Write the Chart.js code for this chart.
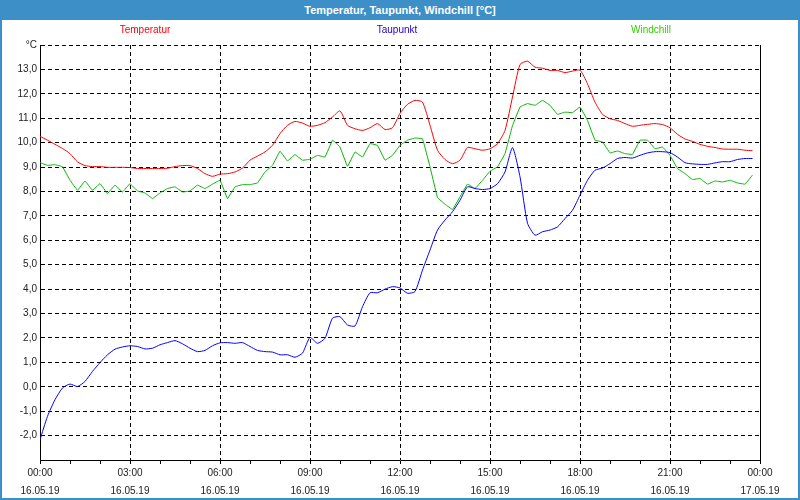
<!DOCTYPE html>
<html>
<head>
<meta charset="utf-8">
<script src="https://cdn.jsdelivr.net/npm/chart.js@4/dist/chart.umd.min.js"></script>
<style>
  html, body { margin: 0; padding: 0; background: #fff; }
  #frame { position: relative; width: 800px; height: 500px; overflow: hidden;
           font-family: "Liberation Sans", Arial, sans-serif; }
  #frame::after { content: ""; position: absolute; left: 0; top: 0; right: 0; bottom: 0;
           border: 2px solid #3d8fc7; border-top: none; pointer-events: none; }
  #titlebar { position: absolute; left: 0; top: 0; width: 800px; height: 20px; background: #3d8fc7;
              color: #fff; font-weight: bold; font-size: 11px; line-height: 20px; text-align: center; z-index: 2; }
  .leg { position: absolute; top: 24px; font-size: 10px; transform: translateX(-50%); z-index: 2; }
  canvas { position: absolute; left: 0; top: 0; }
</style>
</head>
<body>
<div id="frame">
  <div id="titlebar">Temperatur, Taupunkt, Windchill [°C]</div>
  <div class="leg" style="left:145px;color:#ff0000">Temperatur</div>
  <div class="leg" style="left:397px;color:#2200cc">Taupunkt</div>
  <div class="leg" style="left:651px;color:#33cc00">Windchill</div>
  <canvas id="chart" width="800" height="500"></canvas>
</div>
<script>
// Messwerte alle 15 Minuten, 16.05.19 00:00 bis 23:45
const stepMinutes = 15;

const temperatur = [
  10.26, 10.10, 9.93, 9.76, 9.55, 9.21, 9.06, 9.02,
  9.02, 8.99, 8.99, 8.99, 8.98, 8.94, 8.94, 8.94,
  8.94, 8.95, 9.02, 9.06, 9.06, 8.94, 8.73, 8.62,
  8.71, 8.73, 8.80, 8.96, 9.28, 9.45, 9.62, 9.89,
  10.37, 10.71, 10.87, 10.80, 10.67, 10.71, 10.82, 11.05,
  11.30, 10.71, 10.57, 10.50, 10.61, 10.78, 10.54, 10.61,
  11.20, 11.57, 11.73, 11.66, 10.71, 9.69, 9.31, 9.14,
  9.28, 9.80, 9.75, 9.69, 9.75, 9.96, 10.50, 11.87,
  13.20, 13.34, 13.09, 13.05, 12.96, 12.96, 12.87, 12.93,
  12.97, 12.41, 11.66, 11.16, 10.98, 10.91, 10.78, 10.67,
  10.71, 10.75, 10.78, 10.74, 10.61, 10.34, 10.15, 10.05,
  9.93, 9.85, 9.80, 9.74, 9.73, 9.73, 9.69, 9.67
];

const taupunkt = [
  -2.17, -1.21, -0.53, -0.05, 0.11, 0.01, 0.22, 0.63,
  0.99, 1.31, 1.54, 1.63, 1.68, 1.65, 1.55, 1.58,
  1.72, 1.81, 1.89, 1.76, 1.58, 1.44, 1.49, 1.68,
  1.80, 1.81, 1.78, 1.81, 1.65, 1.49, 1.44, 1.42,
  1.31, 1.31, 1.21, 1.38, 2.02, 1.78, 1.99, 2.81,
  2.87, 2.53, 2.49, 3.28, 3.85, 3.85, 4.00, 4.10,
  4.05, 3.83, 3.90, 4.78, 5.60, 6.42, 6.83, 7.17,
  7.64, 8.19, 8.12, 8.08, 8.12, 8.32, 8.80, 9.80,
  8.60, 6.70, 6.21, 6.35, 6.42, 6.55, 6.89, 7.23,
  7.85, 8.46, 8.87, 8.96, 9.14, 9.35, 9.39, 9.37,
  9.48, 9.58, 9.63, 9.63, 9.59, 9.41, 9.18, 9.13,
  9.11, 9.11, 9.17, 9.22, 9.22, 9.31, 9.35, 9.35
];

const windchill = [
  9.18, 9.07, 9.10, 9.01, 8.46, 8.05, 8.43, 8.05,
  8.32, 7.92, 8.26, 7.98, 8.32, 8.02, 7.94, 7.71,
  7.94, 8.12, 8.19, 7.98, 8.02, 8.26, 8.12, 8.30,
  8.46, 7.71, 8.19, 8.28, 8.28, 8.35, 8.80, 9.07,
  9.65, 9.25, 9.51, 9.28, 9.32, 9.48, 9.41, 10.10,
  9.82, 9.03, 9.62, 9.41, 9.96, 9.89, 9.28, 9.48,
  9.89, 10.10, 10.19, 10.16, 9.01, 7.75, 7.48, 7.26,
  7.78, 8.30, 8.12, 8.46, 8.83, 9.01, 9.55, 10.70,
  11.46, 11.60, 11.53, 11.73, 11.53, 11.16, 11.25, 11.23,
  11.46, 10.91, 10.10, 10.03, 9.58, 9.66, 9.55, 9.52,
  10.10, 10.10, 9.75, 9.82, 9.48, 8.94, 8.73, 8.49,
  8.53, 8.30, 8.43, 8.39, 8.46, 8.35, 8.30, 8.67
];

// Achsenbeschriftung x (alle 3 Stunden)
const xTickTimes = ["00:00", "03:00", "06:00", "09:00", "12:00", "15:00", "18:00", "21:00", "00:00"];
const xTickDates = ["16.05.19", "16.05.19", "16.05.19", "16.05.19", "16.05.19", "16.05.19", "16.05.19", "16.05.19", "17.05.19"];

function toPoints(values) {
  return values.map((v, i) => ({ x: (i * stepMinutes) / 60, y: v }));
}

function lineSet(label, values, color, tension) {
  return {
    label,
    data: toPoints(values),
    borderColor: color,
    borderWidth: 1,
    pointRadius: 0,
    tension,
    fill: false,
  };
}

// rechte Rahmenlinie
const rightBorder = {
  id: "rightBorder",
  afterDraw(chart) {
    const { ctx, chartArea } = chart;
    ctx.save();
    ctx.strokeStyle = "#000";
    ctx.lineWidth = 1;
    ctx.beginPath();
    ctx.moveTo(chartArea.right + 0.5, chartArea.top);
    ctx.lineTo(chartArea.right + 0.5, chartArea.bottom);
    ctx.stroke();
    ctx.restore();
  },
};

const font = { family: "'Liberation Sans', Arial, sans-serif", size: 10 };

new Chart(document.querySelector("#chart"), {
  type: "line",
  data: {
    datasets: [
      lineSet("Temperatur", temperatur, "#ff0000", 0.2),
      lineSet("Taupunkt", taupunkt, "#0000ff", 0.2),
      lineSet("Windchill", windchill, "#00b400", 0.05),
    ],
  },
  options: {
    responsive: false,
    animation: false,
    layout: { padding: { top: 45, right: 40, left: 0, bottom: 0 } },
    plugins: { legend: { display: false }, tooltip: { enabled: false } },
    scales: {
      x: {
        type: "linear",
        min: 0,
        max: 24,
        afterFit: (s) => { s.height = 40; },
        ticks: {
          stepSize: 1,
          autoSkip: false,
          maxRotation: 0,
          padding: 0,
          color: "#222",
          font: { ...font, lineHeight: 1.8 },
          callback: (v) => (v % 3 === 0 ? [xTickTimes[v / 3], xTickDates[v / 3]] : ""),
        },
        grid: {
          color: (c) => (c.tick && c.tick.value % 3 === 0 && c.tick.value > 0 && c.tick.value < 24 ? "#000" : "rgba(0,0,0,0)"),
          tickColor: "#000",
          tickLength: 4,
          lineWidth: 1,
        },
        border: { display: true, color: "#000", width: 1, dash: [4, 3] },
      },
      y: {
        min: -3,
        max: 14,
        afterFit: (s) => { s.width = 40; },
        ticks: {
          stepSize: 1,
          padding: 3,
          color: "#222",
          font,
          callback: (v) => (v === 14 ? "°C" : v === -3 ? "" : v.toFixed(1).replace(".", ",")),
        },
        grid: {
          drawTicks: false,
          color: (c) => (c.tick && c.tick.value > -3 ? "#000" : "rgba(0,0,0,0)"),
          lineWidth: 1,
        },
        border: { display: true, color: "#000", width: 1, dash: [4, 3] },
      },
    },
  },
  plugins: [rightBorder],
});
</script>
</body>
</html>
